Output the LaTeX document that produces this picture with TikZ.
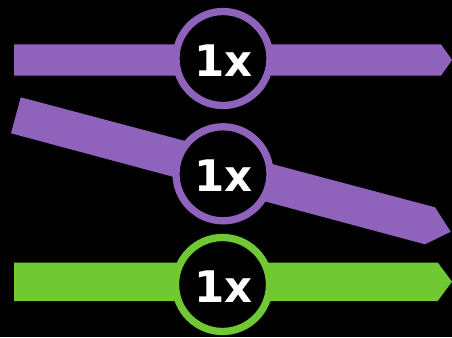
\documentclass[tikz,border=0pt]{standalone}
\usepackage{fontspec}
\newfontfamily\badgefont{DejaVu Sans}
\definecolor{purp}{RGB}{143,99,188}
\definecolor{grn}{RGB}{112,200,50}
\begin{document}
\begin{tikzpicture}[x=1pt,y=-1pt,
  badge/.style={circle, fill=black, line width=7.3pt, minimum size=94pt, inner sep=0pt},
  lbl/.style={text=white, inner sep=0pt, font=\badgefont\fontsize{43.5}{43.5}\selectfont\bfseries}]
\fill[black] (0,0) rectangle (452,337);
\useasboundingbox (0,0) rectangle (452,337);
% arrows
\fill[purp] (14,44.3) -- (441,44.3) -- (452,60) -- (441,75.7) -- (14,75.7) -- cycle;
\fill[purp] (20.7,97.3) -- (435,207.3) -- (450.7,231.7) -- (425,244.3) -- (11,133.3) -- cycle;
\fill[grn] (14,262.5) -- (437.7,262.5) -- (452,281.7) -- (437.7,301) -- (14,301) -- cycle;
% badges
\node[badge, draw=purp] (c1) at (223,58.5) {};
\node[badge, draw=purp] (c2) at (223,173.8) {};
\node[badge, draw=grn] (c3) at (222.5,284.5) {};
\node[lbl] (t1) at (223.3,60.2) {1x};
\node[lbl] (t2) at (223.3,175.8) {1x};
\node[lbl] (t3) at (223.3,286.5) {1x};
\end{tikzpicture}
\end{document}
